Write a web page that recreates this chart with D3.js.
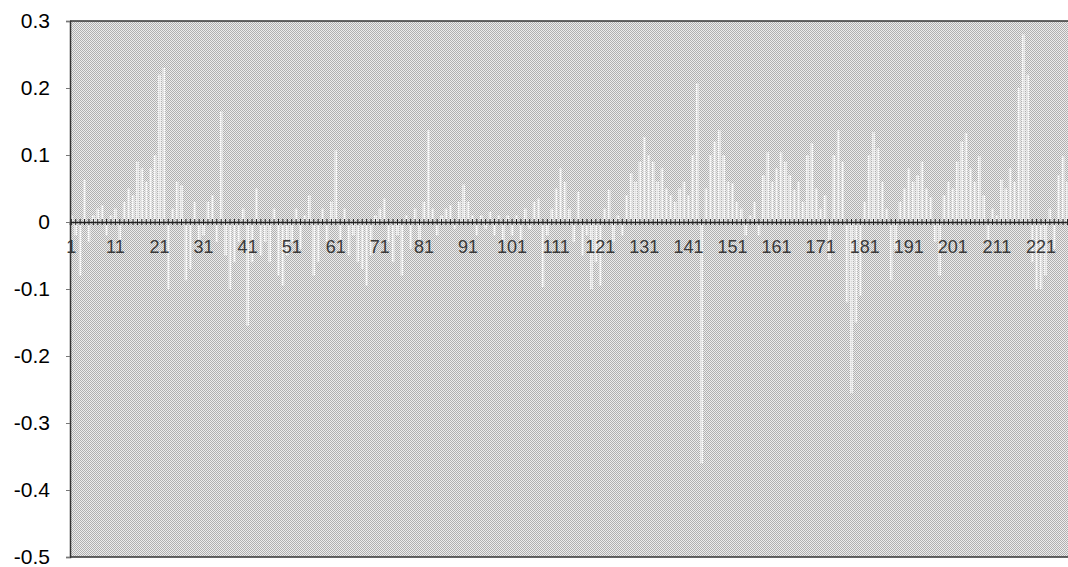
<!DOCTYPE html>
<html>
<head>
<meta charset="utf-8">
<script src="https://cdn.jsdelivr.net/npm/d3@7"></script>
<style>
  body{margin:0;background:#fff;}
  svg{display:block;font-family:"Liberation Sans",Arial,sans-serif;}
</style>
</head>
<body>
<div id="chart"></div>
<script>
const v001=[0.01,-0.02,-0.08,0.063,-0.03,0.01,0.02,0.025,-0.02,0.01];
const v011=[0.02,-0.04,0.03,0.05,0.04,0.09,0.08,0.06,0.08,0.1];
const v021=[0.22,0.23,-0.1,0.02,0.06,0.055,-0.087,-0.07,0.03,-0.03];
const v031=[-0.02,0.03,0.04,-0.03,0.165,-0.05,-0.1,-0.06,-0.03,0.02];
const v041=[-0.155,-0.06,0.05,-0.05,-0.03,-0.06,0.02,-0.08,-0.095,-0.05];
const v051=[-0.03,0.02,-0.04,0.01,0.04,-0.08,-0.06,0.02,-0.03,0.03];
const v061=[0.107,-0.04,0.02,-0.05,-0.02,-0.06,-0.07,-0.095,-0.05,0.01];
const v071=[0.02,0.035,-0.03,-0.06,-0.02,-0.08,0.01,-0.04,0.02,-0.03];
const v081=[0.03,0.137,0.02,-0.02,0.01,0.02,0.025,-0.01,0.03,0.056];
const v091=[0.03,0.01,-0.02,0.01,-0.01,0.015,-0.02,0.01,-0.03,0.01];
const v101=[-0.02,0.01,-0.03,0.02,-0.01,0.03,0.035,-0.097,-0.02,0.02];
const v111=[0.05,0.08,0.06,0.02,-0.03,0.045,-0.05,-0.02,-0.1,-0.06];
const v121=[-0.095,0.02,0.048,-0.03,0.01,-0.02,0.04,0.073,0.06,0.09];
const v131=[0.127,0.1,0.09,0.06,0.08,0.05,0.04,0.03,0.05,0.06];
const v141=[0.04,0.1,0.207,-0.36,0.05,0.1,0.12,0.137,0.1,0.06];
const v151=[0.058,0.03,0.02,-0.02,0.01,0.03,-0.02,0.07,0.104,0.06];
const v161=[0.08,0.104,0.09,0.07,0.048,0.06,0.03,0.1,0.118,0.05];
const v171=[0.02,0.04,-0.057,0.1,0.137,0.09,-0.12,-0.255,-0.15,-0.11];
const v181=[0.03,0.1,0.134,0.11,0.06,0.02,-0.087,-0.04,0.03,0.05];
const v191=[0.08,0.06,0.07,0.09,0.05,0.037,-0.03,-0.08,0.04,0.06];
const v201=[0.05,0.09,0.12,0.133,0.08,0.06,0.098,0.04,-0.03,0.02];
const v211=[0.01,0.063,0.05,0.08,0.06,0.2,0.28,0.22,-0.06,-0.1];
const v221=[-0.1,-0.08,0.02,-0.04,0.07,0.098,0.06,0.03];

const values=[].concat(v001,v011,v021,v031,v041,v051,v061,v071,v081,v091,v101,v111,
  v121,v131,v141,v151,v161,v171,v181,v191,v201,v211,v221);
const categories=values.map((d,i)=>i+1);
const yTicks=[0.3,0.2,0.1,0,-0.1,-0.2,-0.3,-0.4,-0.5];

const w=1068, h=567;
const plotLeft=70, plotTop=21, plotBottom=557;
const plotRight=plotLeft+categories.length*4.4;

const svg=d3.select("#chart").append("svg")
  .attr("width",w)
  .attr("height",h);

const defs=svg.append("defs");
// halftone grey of the plot area
const bg=defs.append("pattern").attr("id","halftone")
  .attr("width",2).attr("height",2).attr("patternUnits","userSpaceOnUse");
bg.append("rect").attr("width",2).attr("height",2).attr("fill","#ececec");
bg.append("rect").attr("x",0).attr("y",0).attr("width",1).attr("height",1).attr("fill","#b0b0b0");
bg.append("rect").attr("x",1).attr("y",1).attr("width",1).attr("height",1).attr("fill","#b0b0b0");
// dotted white for the bars
const dots=defs.append("pattern").attr("id","whitedots")
  .attr("width",2).attr("height",2).attr("patternUnits","userSpaceOnUse");
dots.append("rect").attr("x",0).attr("y",0).attr("width",1).attr("height",1).attr("fill","#fdfdfd");
dots.append("rect").attr("x",1).attr("y",1).attr("width",1).attr("height",1).attr("fill","#d8d8d8");

const xScale=d3.scaleBand()
  .domain(categories)
  .range([plotLeft,plotRight])
  .paddingInner(0.4);
const yScale=d3.scaleLinear()
  .domain([-0.5,0.3])
  .range([plotBottom,plotTop]);

svg.append("rect")
  .attr("x",plotLeft).attr("y",plotTop)
  .attr("width",plotRight-plotLeft).attr("height",plotBottom-plotTop)
  .attr("fill","url(#halftone)");

svg.append("g").selectAll("rect")
  .data(values)
  .enter()
  .append("rect")
  .attr("x",(d,i)=>xScale(categories[i]))
  .attr("width",xScale.bandwidth())
  .attr("y",d=>yScale(Math.max(0,d)))
  .attr("height",d=>Math.abs(yScale(d)-yScale(0)))
  .attr("fill","url(#whitedots)");

// frame top and bottom
svg.append("line").attr("x1",plotLeft).attr("x2",plotRight)
  .attr("y1",plotTop).attr("y2",plotTop).attr("stroke","#333").attr("stroke-width",1.5);
svg.append("line").attr("x1",plotLeft).attr("x2",plotRight)
  .attr("y1",plotBottom).attr("y2",plotBottom).attr("stroke","#333").attr("stroke-width",1.5);

// category axis sitting on zero
const xAxis=d3.axisBottom(xScale)
  .tickSize(3)
  .tickPadding(15)
  .tickFormat(d=>(d-1)%10===0?d:"");
const gx=svg.append("g")
  .attr("transform",`translate(0,${yScale(0)})`)
  .call(xAxis);
gx.select(".domain").attr("stroke","#222").attr("stroke-width",1.6);
gx.selectAll(".tick line").attr("y1",-3).attr("y2",3).attr("stroke","#222");
gx.selectAll(".tick text")
  .style("font-size","18px")
  .attr("fill","#3a3a3a");

const yAxis=d3.axisLeft(yScale)
  .tickValues(yTicks)
  .tickSize(4)
  .tickPadding(16)
  .tickFormat(d=>(Math.round(d*10)/10).toString());
const gy=svg.append("g")
  .attr("transform",`translate(${plotLeft},0)`)
  .call(yAxis);
gy.select(".domain").attr("stroke","#333").attr("stroke-width",1.5);
gy.selectAll(".tick line").attr("stroke","#777");
gy.selectAll(".tick text")
  .style("font-size","21px")
  .attr("fill","#000");
</script>
</body>
</html>
